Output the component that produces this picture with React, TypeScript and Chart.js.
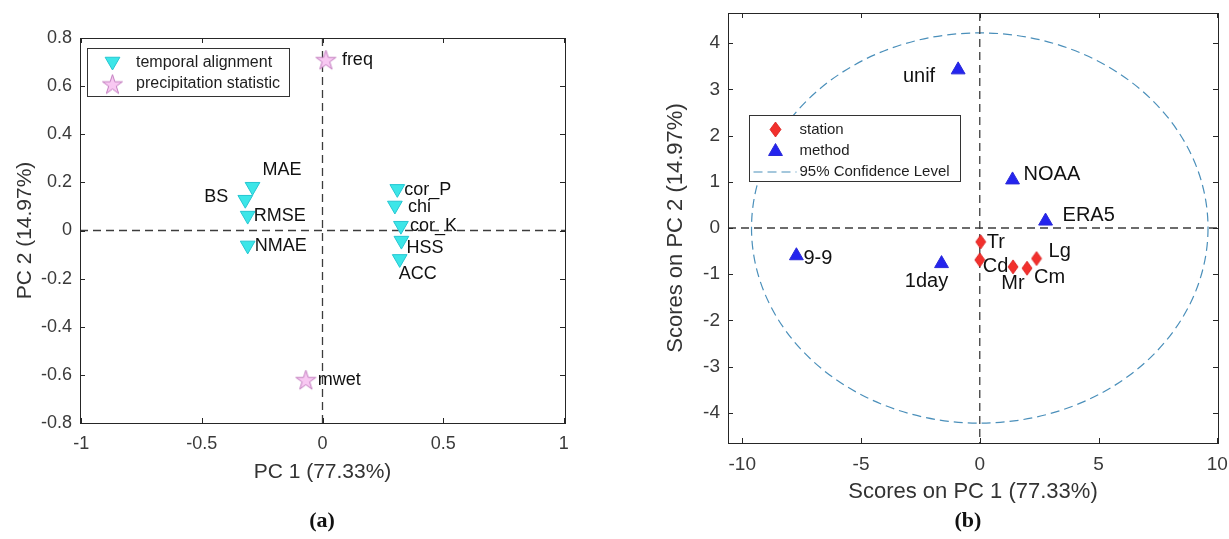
import React, { useEffect, useRef } from 'react';
import { Chart, registerables } from 'chart.js';
Chart.register(...registerables);

// ---------- Panel (a): PCA loadings ----------
const temporalNames = ['MAE', 'BS', 'RMSE', 'NMAE', 'cor_P', 'chi', 'cor_K', 'HSS', 'ACC'];
const temporalPC1 = [-0.29, -0.32, -0.31, -0.31, 0.31, 0.3, 0.325, 0.327, 0.32];
const temporalPC2 = [0.182, 0.128, 0.062, -0.062, 0.173, 0.104, 0.02, -0.042, -0.118];
const precipNames = ['freq', 'mwet'];
const precipPC1 = [0.014, -0.069];
const precipPC2 = [0.71, -0.62];
const axisATicksX = [-1, -0.5, 0, 0.5, 1];
const axisATicksY = [-0.8, -0.6, -0.4, -0.2, 0, 0.2, 0.4, 0.6, 0.8];

// ---------- Panel (b): PCA scores ----------
const stationNames = ['Tr', 'Cd', 'Mr', 'Cm', 'Lg'];
const stationPC1 = [0.04, 0, 1.4, 1.99, 2.39];
const stationPC2 = [-0.3, -0.69, -0.84, -0.87, -0.66];
const methodNames = ['unif', 'NOAA', 'ERA5', '9-9', '1day'];
const methodPC1 = [-0.91, 1.38, 2.77, -7.72, -1.61];
const methodPC2 = [3.42, 1.04, 0.15, -0.6, -0.77];
const ellipseCenter = [0, 0];
const ellipseSemiAxes = [9.61, 4.22];
const axisBTicksX = [-10, -5, 0, 5, 10];
const axisBTicksY = [-4, -3, -2, -1, 0, 1, 2, 3, 4];

// ---------- styles ----------
const FONT = '"Liberation Sans", Arial, Helvetica, sans-serif';
const CYAN = '#3ce6e8';
const CYAN_EDGE = '#25c6d2';
const PINK = '#f8c8f2';
const PINK_EDGE = '#c27dbf';
const RED = '#f2302c';
const BLUE = '#2424ee';
const ELLIPSE = '#4a8fba';
const AXIS = '#262626';
const TICKTXT = '#3a3a3a';

type Place = [number, number, CanvasTextAlign];
const labelPlaceA: Record<string, Place> = {
  MAE: [10, -17, 'left'],
  BS: [-17, -3, 'right'],
  RMSE: [6, 0, 'left'],
  NMAE: [7, 1, 'left'],
  cor_P: [7, 1, 'left'],
  chi: [13, 2, 'left'],
  cor_K: [9, 0, 'left'],
  HSS: [5, 7, 'left'],
  ACC: [-1, 15, 'left'],
  freq: [16, 0, 'left'],
  mwet: [12, 0, 'left'],
};
const labelPlaceB: Record<string, Place> = {
  unif: [-23, 7, 'right'],
  NOAA: [11, -5, 'left'],
  ERA5: [17, -6, 'left'],
  '9-9': [7, 3, 'left'],
  '1day': [-15, 18, 'center'],
  Tr: [6, 1, 'left'],
  Cd: [3, 7, 'left'],
  Mr: [0, 17, 'center'],
  Cm: [7, 9, 'left'],
  Lg: [12, -7, 'left'],
};

function makeStar(outer: number, fill: string, stroke: string) {
  const inner = outer * 0.382;
  const size = Math.ceil(outer * 2 + 4);
  const c = document.createElement('canvas');
  c.width = size;
  c.height = size;
  const g = c.getContext('2d')!;
  const cx = size / 2;
  const cy = size / 2 + outer * 0.095;
  g.beginPath();
  for (let k = 0; k < 10; k++) {
    const r = k % 2 === 0 ? outer : inner;
    const a = -Math.PI / 2 + (k * Math.PI) / 5;
    const px = cx + r * Math.cos(a);
    const py = cy + r * Math.sin(a);
    if (k === 0) g.moveTo(px, py);
    else g.lineTo(px, py);
  }
  g.closePath();
  g.fillStyle = fill;
  g.fill();
  g.lineWidth = 1;
  g.strokeStyle = stroke;
  g.stroke();
  return c;
}

function makeDiamond(w: number, h: number, fill: string, stroke: string) {
  const c = document.createElement('canvas');
  c.width = w + 2;
  c.height = h + 2;
  const g = c.getContext('2d')!;
  const cx = (w + 2) / 2;
  const cy = (h + 2) / 2;
  g.beginPath();
  g.moveTo(cx, 1);
  g.lineTo(w + 1, cy);
  g.lineTo(cx, h + 1);
  g.lineTo(1, cy);
  g.closePath();
  g.fillStyle = fill;
  g.fill();
  g.lineWidth = 0.8;
  g.strokeStyle = stroke;
  g.stroke();
  return c;
}

function drawTriangle(ctx: CanvasRenderingContext2D, x: number, y: number, r: number, down: boolean, fill: string, stroke: string) {
  const s = down ? -1 : 1;
  ctx.beginPath();
  ctx.moveTo(x, y - s * r);
  ctx.lineTo(x + r * 0.866, y + s * r * 0.5);
  ctx.lineTo(x - r * 0.866, y + s * r * 0.5);
  ctx.closePath();
  ctx.fillStyle = fill;
  ctx.fill();
  ctx.lineWidth = 1;
  ctx.strokeStyle = stroke;
  ctx.stroke();
}

function framePlugin(opts: { ellipse?: boolean; legend: (chart: any) => void }) {
  return {
    id: 'frameDeco',
    beforeDatasetsDraw(chart: any) {
      const { ctx, chartArea: ca, scales } = chart;
      const x0 = scales.x.getPixelForValue(0);
      const y0 = scales.y.getPixelForValue(0);
      ctx.save();
      ctx.beginPath();
      ctx.rect(ca.left, ca.top, ca.right - ca.left, ca.bottom - ca.top);
      ctx.clip();
      if (opts.ellipse) {
        const cx = scales.x.getPixelForValue(ellipseCenter[0]);
        const cy = scales.y.getPixelForValue(ellipseCenter[1]);
        const rx = Math.abs(scales.x.getPixelForValue(ellipseCenter[0] + ellipseSemiAxes[0]) - cx);
        const ry = Math.abs(scales.y.getPixelForValue(ellipseCenter[1] + ellipseSemiAxes[1]) - cy);
        ctx.beginPath();
        ctx.setLineDash([9, 5]);
        ctx.strokeStyle = ELLIPSE;
        ctx.lineWidth = 1.2;
        ctx.ellipse(cx, cy, rx, ry, 0, 0, Math.PI * 2);
        ctx.stroke();
      }
      ctx.setLineDash([8, 5]);
      ctx.strokeStyle = '#3c3c3c';
      ctx.lineWidth = 1.3;
      ctx.beginPath();
      ctx.moveTo(ca.left, y0);
      ctx.lineTo(ca.right, y0);
      ctx.moveTo(x0, ca.top);
      ctx.lineTo(x0, ca.bottom);
      ctx.stroke();
      ctx.restore();
    },
    afterDraw(chart: any) {
      const { ctx, chartArea: ca, scales } = chart;
      ctx.save();
      ctx.strokeStyle = AXIS;
      ctx.lineWidth = 1;
      ctx.setLineDash([]);
      ctx.strokeRect(Math.round(ca.left) + 0.5, Math.round(ca.top) + 0.5, Math.round(ca.right - ca.left), Math.round(ca.bottom - ca.top));
      const tl = 5;
      ctx.beginPath();
      scales.x.ticks.forEach((t: any) => {
        const px = Math.round(scales.x.getPixelForValue(t.value)) + 0.5;
        ctx.moveTo(px, ca.bottom);
        ctx.lineTo(px, ca.bottom - tl);
        ctx.moveTo(px, ca.top);
        ctx.lineTo(px, ca.top + tl);
      });
      scales.y.ticks.forEach((t: any) => {
        const py = Math.round(scales.y.getPixelForValue(t.value)) + 0.5;
        ctx.moveTo(ca.left, py);
        ctx.lineTo(ca.left + tl, py);
        ctx.moveTo(ca.right, py);
        ctx.lineTo(ca.right - tl, py);
      });
      ctx.stroke();
      ctx.restore();
      ctx.save();
      opts.legend(chart);
      ctx.restore();
    },
  };
}

function labelPlugin(names: string[][], place: Record<string, Place>, size: number) {
  return {
    id: 'pointNames',
    afterDatasetsDraw(chart: any) {
      const ctx = chart.ctx;
      ctx.save();
      ctx.font = `${size}px ${FONT}`;
      ctx.fillStyle = '#111';
      ctx.textBaseline = 'middle';
      chart.data.datasets.forEach((_: any, di: number) => {
        const nm = names[di];
        if (!nm) return;
        chart.getDatasetMeta(di).data.forEach((el: any, i: number) => {
          const p = place[nm[i]] || [6, 0, 'left'];
          ctx.textAlign = p[2];
          ctx.fillText(nm[i], el.x + p[0], el.y + p[1]);
        });
      });
      ctx.restore();
    },
  };
}

function fixedTicks(values: number[]) {
  return (s: any) => {
    s.ticks = values.map((v) => ({ value: v }));
  };
}

function fixHeight(h: number) {
  return (s: any) => {
    s.height = h;
    s.paddingLeft = 0;
    s.paddingRight = 0;
    s.paddingTop = 0;
    s.paddingBottom = 0;
  };
}
function fixWidth(w: number) {
  return (s: any) => {
    s.width = w;
    s.paddingLeft = 0;
    s.paddingRight = 0;
    s.paddingTop = 0;
    s.paddingBottom = 0;
  };
}

export default function App() {
  const refA = useRef<HTMLCanvasElement>(null);
  const refB = useRef<HTMLCanvasElement>(null);

  useEffect(() => {
    const star = makeStar(10.5, PINK, PINK_EDGE);
    const diamond = makeDiamond(10, 14, RED, '#d81c1c');
    const diamondLeg = makeDiamond(11, 15, RED, '#d81c1c');

    const chartA = new Chart(refA.current!, {
      type: 'scatter',
      data: {
        datasets: [
          {
            label: 'temporal alignment',
            data: temporalPC1.map((x, i) => ({ x, y: temporalPC2[i] })),
            pointStyle: 'triangle',
            rotation: 180,
            radius: 8.5,
            backgroundColor: CYAN,
            borderColor: CYAN_EDGE,
            borderWidth: 1,
          },
          {
            label: 'precipitation statistic',
            data: precipPC1.map((x, i) => ({ x, y: precipPC2[i] })),
            pointStyle: star as any,
            radius: 10,
          },
        ],
      },
      options: {
        animation: false,
        responsive: false,
        events: [],
        layout: { padding: { left: 0, top: 38, right: 35, bottom: 30 } },
        plugins: { legend: { display: false }, tooltip: { enabled: false } },
        scales: {
          x: {
            type: 'linear',
            min: -1.005,
            max: 1.005,
            afterBuildTicks: fixedTicks(axisATicksX),
            afterFit: fixHeight(86),
            grid: { display: false, drawTicks: false },
            border: { display: false },
            ticks: { font: { family: FONT, size: 18 }, color: TICKTXT, padding: 10, maxRotation: 0, autoSkip: false, callback: (v: any) => String(v) },
            title: { display: true, text: 'PC 1 (77.33%)', font: { family: FONT, size: 21 }, color: '#333', padding: { top: 0, bottom: 24 } },
          },
          y: {
            type: 'linear',
            min: -0.8,
            max: 0.8,
            afterBuildTicks: fixedTicks(axisATicksY),
            afterFit: fixWidth(80),
            grid: { display: false, drawTicks: false },
            border: { display: false },
            ticks: { font: { family: FONT, size: 18 }, color: TICKTXT, padding: 8, autoSkip: false, callback: (v: any) => String(Math.round(v * 10) / 10) },
            title: { display: true, text: 'PC 2 (14.97%)', font: { family: FONT, size: 21 }, color: '#333', padding: { top: 12.4, bottom: 0 } },
          },
        },
      },
      plugins: [
        framePlugin({
          legend: (chart: any) => {
            const { ctx, chartArea: ca } = chart;
            const bx = Math.round(ca.left + 7) + 0.5;
            const by = Math.round(ca.top + 10) + 0.5;
            ctx.fillStyle = '#fff';
            ctx.fillRect(bx, by, 202, 48);
            ctx.strokeStyle = '#333';
            ctx.lineWidth = 1;
            ctx.strokeRect(bx, by, 202, 48);
            drawTriangle(ctx, bx + 25, by + 13, 8.5, true, CYAN, CYAN_EDGE);
            ctx.drawImage(star, bx + 25 - star.width / 2, by + 35.5 - star.height / 2);
            ctx.font = `16px ${FONT}`;
            ctx.fillStyle = '#1e1e1e';
            ctx.textBaseline = 'middle';
            ctx.textAlign = 'left';
            ctx.fillText('temporal alignment', bx + 48.5, by + 14);
            ctx.fillText('precipitation statistic', bx + 48.5, by + 35.5);
          },
        }),
        labelPlugin([temporalNames, precipNames], labelPlaceA, 18),
      ],
    });

    const chartB = new Chart(refB.current!, {
      type: 'scatter',
      data: {
        datasets: [
          {
            label: 'station',
            data: stationPC1.map((x, i) => ({ x, y: stationPC2[i] })),
            pointStyle: diamond as any,
            radius: 7,
          },
          {
            label: 'method',
            data: methodPC1.map((x, i) => ({ x, y: methodPC2[i] })),
            pointStyle: 'triangle',
            radius: 8,
            backgroundColor: BLUE,
            borderColor: '#2a2ad8',
            borderWidth: 1,
          },
        ],
      },
      options: {
        animation: false,
        responsive: false,
        events: [],
        layout: { padding: { left: 0, top: 13, right: 11, bottom: 30 } },
        plugins: { legend: { display: false }, tooltip: { enabled: false } },
        scales: {
          x: {
            type: 'linear',
            min: -10.6,
            max: 10.03,
            afterBuildTicks: fixedTicks(axisBTicksX),
            afterFit: fixHeight(66),
            grid: { display: false, drawTicks: false },
            border: { display: false },
            ticks: { font: { family: FONT, size: 19 }, color: TICKTXT, padding: 10.5, maxRotation: 0, autoSkip: false, callback: (v: any) => String(v) },
            title: { display: true, text: 'Scores on PC 1 (77.33%)', font: { family: FONT, size: 22 }, color: '#333', padding: { top: 0, bottom: 4 } },
          },
          y: {
            type: 'linear',
            min: -4.65,
            max: 4.65,
            afterBuildTicks: fixedTicks(axisBTicksY),
            afterFit: fixWidth(108),
            grid: { display: false, drawTicks: false },
            border: { display: false },
            ticks: { font: { family: FONT, size: 19 }, color: TICKTXT, padding: 8, autoSkip: false, callback: (v: any) => String(v) },
            title: { display: true, text: 'Scores on PC 2 (14.97%)', font: { family: FONT, size: 22 }, color: '#333', padding: { top: 42.5, bottom: 0 } },
          },
        },
      },
      plugins: [
        framePlugin({
          ellipse: true,
          legend: (chart: any) => {
            const { ctx, chartArea: ca } = chart;
            const bx = Math.round(ca.left + 21) + 0.5;
            const by = Math.round(ca.top + 102) + 0.5;
            ctx.fillStyle = '#fff';
            ctx.fillRect(bx, by, 211, 66);
            ctx.strokeStyle = '#333';
            ctx.lineWidth = 1;
            ctx.strokeRect(bx, by, 211, 66);
            ctx.drawImage(diamondLeg, bx + 26 - diamondLeg.width / 2, by + 14 - diamondLeg.height / 2);
            drawTriangle(ctx, bx + 26, by + 36, 8, false, BLUE, '#2a2ad8');
            ctx.save();
            ctx.setLineDash([9, 5]);
            ctx.strokeStyle = ELLIPSE;
            ctx.lineWidth = 1.2;
            ctx.beginPath();
            ctx.moveTo(bx + 4, by + 56.5);
            ctx.lineTo(bx + 47, by + 56.5);
            ctx.stroke();
            ctx.restore();
            ctx.font = `15px ${FONT}`;
            ctx.fillStyle = '#1e1e1e';
            ctx.textBaseline = 'middle';
            ctx.textAlign = 'left';
            ctx.fillText('station', bx + 50, by + 14.5);
            ctx.fillText('method', bx + 50, by + 35.5);
            ctx.fillText('95% Confidence Level', bx + 50, by + 56.5);
          },
        }),
        labelPlugin([stationNames, methodNames], labelPlaceB, 20),
      ],
    });

    return () => {
      chartA.destroy();
      chartB.destroy();
    };
  }, []);

  const capStyle: React.CSSProperties = {
    position: 'absolute',
    top: 506,
    width: 60,
    textAlign: 'center',
    font: 'bold 22px "Liberation Serif", "Times New Roman", serif',
    color: '#111',
    lineHeight: '28px',
  };

  return (
    <div style={{ position: 'fixed', left: 0, top: 0, width: 1229, height: 539, background: '#fff', overflow: 'hidden' }}>
      <canvas ref={refA} width={600} height={539} style={{ position: 'absolute', left: 0, top: 0, width: 600, height: 539 }} />
      <canvas ref={refB} width={609} height={539} style={{ position: 'absolute', left: 620, top: 0, width: 609, height: 539 }} />
      <div style={{ ...capStyle, left: 292 }}>(a)</div>
      <div style={{ ...capStyle, left: 938 }}>(b)</div>
    </div>
  );
}
